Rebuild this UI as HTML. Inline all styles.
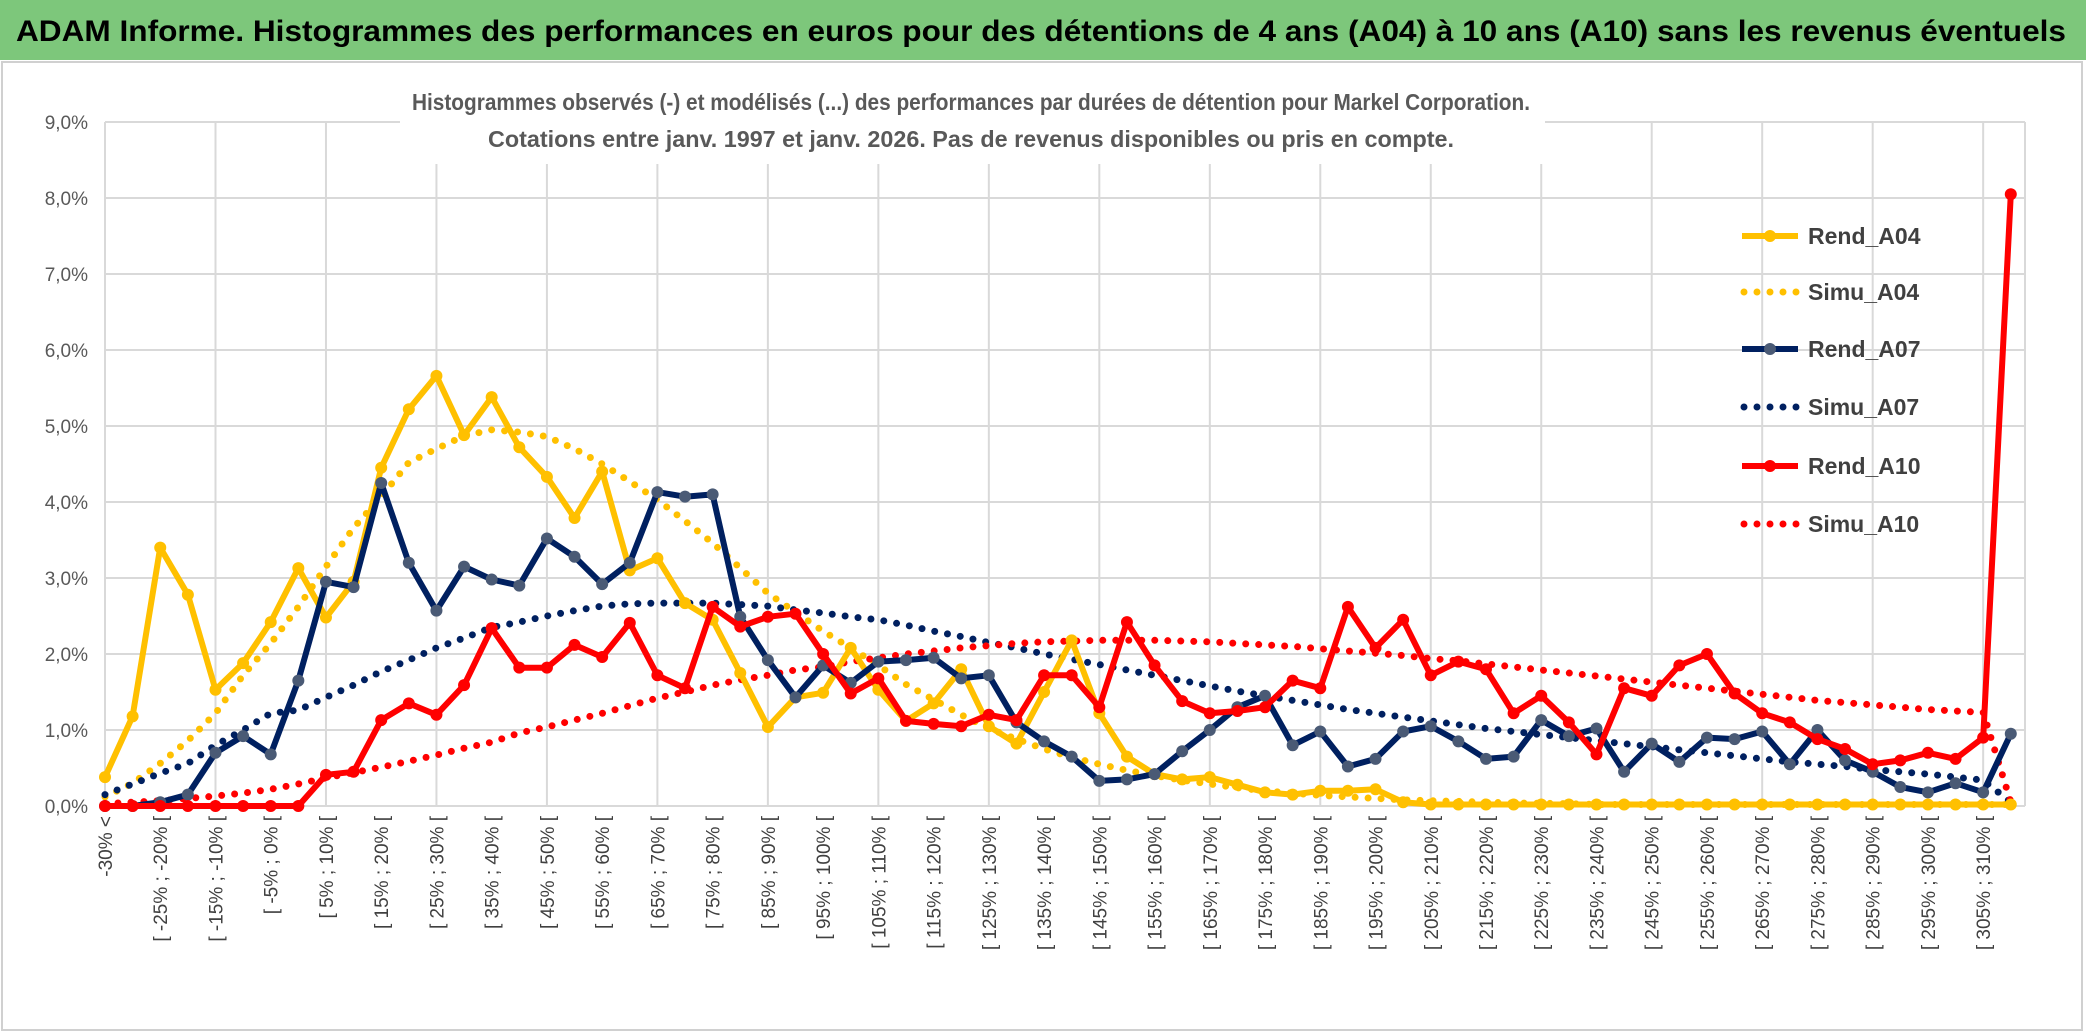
<!DOCTYPE html>
<html><head><meta charset="utf-8">
<style>
html,body{margin:0;padding:0;background:#fff;}
svg{display:block;font-family:"Liberation Sans",sans-serif;}
</style></head>
<body>
<svg id="chart" width="2086" height="1033" viewBox="0 0 2086 1033" xmlns="http://www.w3.org/2000/svg">
<rect x="0" y="0" width="2086" height="1033" fill="#fff"/>
<rect x="0" y="0" width="2086" height="60" fill="#7dc77b"/>
<text x="16" y="41" font-size="30" font-weight="bold" fill="#000" textLength="2050" lengthAdjust="spacingAndGlyphs">ADAM Informe. Histogrammes des performances en euros pour des détentions de 4 ans (A04) à 10 ans (A10) sans les revenus éventuels</text>
<rect x="2" y="62" width="2080" height="968" fill="none" stroke="#d0d0d0" stroke-width="2"/>
<g id="grid"></g>
<rect x="400" y="80" width="1145" height="84" fill="#fff"/>
<text x="971" y="110" text-anchor="middle" font-size="23" font-weight="bold" fill="#595959" textLength="1118" lengthAdjust="spacingAndGlyphs">Histogrammes observés (-) et modélisés (...) des performances par durées de détention pour Markel Corporation.</text>
<text x="971" y="147" text-anchor="middle" font-size="23" font-weight="bold" fill="#595959" textLength="966" lengthAdjust="spacingAndGlyphs">Cotations entre janv. 1997 et janv. 2026. Pas de revenus disponibles ou pris en compte.</text>
<g id="yaxis"></g>
<g id="xaxis"></g>
<g id="series"></g>
<g id="legend"></g>
</svg>
<script>
const rendA04 = [0.38,1.18,3.4,2.78,1.53,1.88,2.42,3.13,2.48,2.95,4.45,5.22,5.66,4.88,5.38,4.72,4.33,3.79,4.4,3.1,3.26,2.67,2.45,1.75,1.04,1.43,1.49,2.08,1.53,1.12,1.35,1.8,1.05,0.82,1.5,2.18,1.22,0.65,0.42,0.35,0.38,0.28,0.18,0.15,0.2,0.2,0.22,0.05,0.02,0.02,0.02,0.02,0.02,0.02,0.02,0.02,0.02,0.02,0.02,0.02,0.02,0.02,0.02,0.02,0.02,0.02,0.02,0.02,0.02,0.02];
const simuA04 = [0.12,0.3,0.56,0.86,1.22,1.72,2.14,2.62,3.15,3.66,4.07,4.52,4.7,4.87,4.95,4.92,4.86,4.7,4.5,4.27,4.03,3.75,3.46,3.13,2.8,2.55,2.3,2.08,1.85,1.6,1.4,1.2,1.02,0.88,0.75,0.64,0.55,0.47,0.4,0.34,0.29,0.24,0.2,0.17,0.14,0.12,0.1,0.08,0.07,0.06,0.05,0.04,0.035,0.03,0.02,0.02,0.02,0.02,0.02,0.02,0.02,0.02,0.02,0.02,0.02,0.02,0.02,0.02,0.02,0.02];
const rendA07 = [0,0,0.05,0.15,0.7,0.92,0.68,1.65,2.95,2.88,4.25,3.2,2.57,3.15,2.98,2.9,3.52,3.28,2.92,3.2,4.13,4.07,4.1,2.49,1.92,1.43,1.85,1.62,1.9,1.92,1.95,1.68,1.72,1.1,0.85,0.65,0.33,0.35,0.42,0.72,1.0,1.3,1.45,0.8,0.98,0.52,0.62,0.98,1.05,0.85,0.62,0.65,1.13,0.92,1.02,0.45,0.82,0.58,0.9,0.88,0.98,0.55,1.0,0.6,0.45,0.25,0.18,0.3,0.18,0.95];
const simuA07 = [0.15,0.29,0.43,0.56,0.8,1.0,1.22,1.26,1.43,1.59,1.77,1.92,2.08,2.21,2.35,2.42,2.5,2.57,2.63,2.66,2.67,2.67,2.67,2.65,2.63,2.58,2.54,2.49,2.45,2.38,2.3,2.23,2.15,2.08,2.0,1.93,1.86,1.79,1.72,1.65,1.58,1.51,1.45,1.39,1.33,1.27,1.22,1.17,1.12,1.07,1.02,0.98,0.94,0.9,0.86,0.82,0.78,0.74,0.7,0.66,0.62,0.58,0.55,0.52,0.48,0.45,0.42,0.38,0.34,0.05];
const rendA10 = [0,0,0,0,0,0,0,0,0.41,0.45,1.13,1.35,1.2,1.59,2.34,1.82,1.82,2.12,1.96,2.41,1.72,1.55,2.62,2.36,2.49,2.53,2.0,1.48,1.68,1.12,1.08,1.05,1.2,1.13,1.72,1.72,1.3,2.42,1.85,1.38,1.22,1.25,1.3,1.65,1.55,2.62,2.08,2.45,1.72,1.9,1.8,1.22,1.45,1.1,0.68,1.55,1.45,1.85,2.0,1.48,1.22,1.1,0.88,0.75,0.55,0.6,0.7,0.62,0.9,8.05];
const simuA10 = [0.03,0.05,0.07,0.1,0.13,0.17,0.22,0.29,0.37,0.44,0.51,0.59,0.67,0.76,0.84,0.96,1.04,1.13,1.22,1.32,1.42,1.5,1.59,1.66,1.72,1.79,1.83,1.9,1.95,2.0,2.04,2.08,2.11,2.14,2.16,2.17,2.18,2.18,2.18,2.17,2.16,2.14,2.12,2.1,2.07,2.04,2.01,1.98,1.94,1.91,1.87,1.83,1.79,1.75,1.71,1.67,1.63,1.59,1.55,1.51,1.47,1.43,1.39,1.36,1.33,1.3,1.27,1.25,1.23,0.05];
const yTicks = [0,1,2,3,4,5,6,7,8,9];
const seriesNames = ["Rend_A04","Simu_A04","Rend_A07","Simu_A07","Rend_A10","Simu_A10"];

const NS = "http://www.w3.org/2000/svg";
const X0 = 105, DX = 27.62, Y0 = 806, DY = 76;
const N = rendA04.length;
function xs(i){ return X0 + i*DX; }
function ys(v){ return Y0 - v*DY; }
function mk(tag, attrs, parent){ const e=document.createElementNS(NS,tag); for(const k in attrs) e.setAttribute(k,attrs[k]); parent.appendChild(e); return e; }
function catLabel(i){
  if(i===0) return "-30% <";
  const lo = -30 + (i-1)*5;
  return "[ " + lo + "% ; " + (lo+5) + "% [";
}
const grid = document.getElementById("grid");
const yaxis = document.getElementById("yaxis");
const xaxis = document.getElementById("xaxis");
const plotRight = 2025;
yTicks.forEach(t=>{
  const l = mk("line",{x1:X0,x2:plotRight,y1:ys(t),y2:ys(t),stroke:"#d9d9d9","stroke-width":2},grid);
  
  
  const tx = mk("text",{x:88,y:ys(t)+7,"text-anchor":"end","font-size":19,fill:"#595959"},yaxis);
  tx.textContent = t.toFixed(1).replace(".",",")+"%";
  
  
});
for(let i=0;i<N;i+=4){
  const l = mk("line",{x1:xs(i),x2:xs(i),y1:ys(9),y2:Y0,stroke:"#d9d9d9","stroke-width":2},grid);
  
  
}
const rl = mk("line",{x1:plotRight,x2:plotRight,y1:ys(9),y2:Y0,stroke:"#d9d9d9","stroke-width":2},grid);


for(let i=0;i<N;i+=2){
  const tx = mk("text",{x:0,y:0,"text-anchor":"end","font-size":19,fill:"#404040",transform:"translate("+(xs(i)+7)+",816) rotate(-90)"},xaxis);
  tx.textContent = catLabel(i);
  
  
}
const series = document.getElementById("series");
function pts(arr){ return arr.map((v,i)=>xs(i).toFixed(1)+","+ys(v).toFixed(1)).join(" "); }
function dotted(arr,color,name){
  const p = mk("polyline",{points:pts(arr),fill:"none",stroke:color,"stroke-width":7,"stroke-linecap":"round","stroke-dasharray":"0 13"},series);
  
  
}
function solid(arr,color,mcolor,name){
  const p = mk("polyline",{points:pts(arr),fill:"none",stroke:color,"stroke-width":6,"stroke-linejoin":"round"},series);
  
  
  arr.forEach((v,i)=>{
    const c = mk("circle",{cx:xs(i),cy:ys(v),r:6,fill:mcolor},series);
    
    
  });
}
dotted(simuA04,"#ffc000","simu-a04-line");
dotted(simuA07,"#002060","simu-a07-line");
dotted(simuA10,"#ff0000","simu-a10-line");
solid(rendA04,"#ffc000","#ffc000","rend-a04-line");
solid(rendA07,"#002060","#4a5a75","rend-a07-line");
solid(rendA10,"#ff0000","#ff0000","rend-a10-line");

const legend = document.getElementById("legend");
const lgY = [236,292,349,407,466,524];
const lgC = ["#ffc000","#ffc000","#002060","#002060","#ff0000","#ff0000"];
const lgM = ["#ffc000",null,"#4a5a75",null,"#ff0000",null];
seriesNames.forEach((n,k)=>{
  const g = mk("g",{},legend);
  
  
  if(k%2===0){
    mk("line",{x1:1742,x2:1798,y1:lgY[k],y2:lgY[k],stroke:lgC[k],"stroke-width":6},g);
    mk("circle",{cx:1770,cy:lgY[k],r:6,fill:lgM[k]},g);
  } else {
    mk("line",{x1:1744,x2:1798,y1:lgY[k],y2:lgY[k],stroke:lgC[k],"stroke-width":7,"stroke-linecap":"round","stroke-dasharray":"0 13"},g);
  }
  const t = mk("text",{x:1808,y:lgY[k]+8,"font-size":23,"font-weight":"bold",fill:"#404040"},g);
  t.textContent = n;
});
</script>
</body></html>
